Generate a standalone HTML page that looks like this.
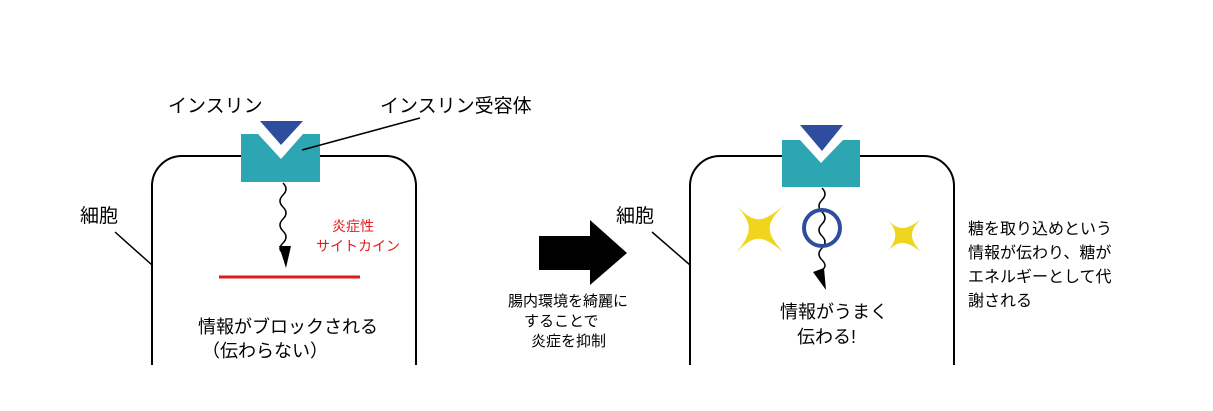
<!DOCTYPE html>
<html><head><meta charset="utf-8"><style>
body{margin:0;background:#fff;}
svg text{font-family:"Liberation Sans","Noto Sans CJK JP",sans-serif;}
</style></head><body>
<svg width="1213" height="406" viewBox="0 0 1213 406" xmlns="http://www.w3.org/2000/svg">
<path d="M152,365 V186 A30,30 0 0 1 182,156 H386 A30,30 0 0 1 416,186 V365" fill="none" stroke="#000" stroke-width="2"/>
<rect x="241" y="134" width="79" height="48" fill="#2ca6b2"/>
<polygon points="258,134 303,134 281,159" fill="#fff"/>
<polygon points="260,121 303,121 281,145" fill="#2e4d9e"/>
<line x1="302" y1="150" x2="420" y2="118" stroke="#000" stroke-width="1.5"/>
<path d="M283,183 q6,6 0,12 q-6,6 0,12 q6,6 0,12 q-6,6 0,12 q6,6 0,12 q-6,6 0,10" fill="none" stroke="#000" stroke-width="1.5"/>
<polygon points="279,246 291,246 286,268" fill="#000"/>
<line x1="219" y1="277" x2="360" y2="277" stroke="#e01b1b" stroke-width="3"/>
<text x="168" y="112" font-size="19">インスリン</text>
<text x="380" y="112" font-size="19">インスリン受容体</text>
<text x="80" y="222" font-size="19">細胞</text>
<line x1="115" y1="232" x2="152" y2="265" stroke="#000" stroke-width="1.5"/>
<text x="332" y="231" font-size="14" fill="#e01b1b">炎症性</text>
<text x="316" y="251" font-size="14" fill="#e01b1b">サイトカイン</text>
<text x="198" y="333" font-size="18">情報がブロックされる</text>
<text x="202" y="357" font-size="18">（伝わらない）</text>
<polygon points="539,236 590,236 590,220 627,253 590,285 590,270 539,270" fill="#000"/>
<text x="508" y="306" font-size="15">腸内環境を綺麗に</text>
<text x="524" y="326" font-size="15">することで</text>
<text x="531" y="346" font-size="15">炎症を抑制</text>
<path d="M690,365 V186 A30,30 0 0 1 720,156 H924 A30,30 0 0 1 954,186 V365" fill="none" stroke="#000" stroke-width="2"/>
<rect x="782" y="140" width="78" height="47" fill="#2ca6b2"/>
<polygon points="800,140 843,140 821,163" fill="#fff"/>
<polygon points="800,125 843,125 822,151" fill="#2e4d9e"/>
<path d="M822,188 q6,6 0,12 q-6,6 0,12 q6,6 0,12 q-6,6 0,12 q6,6 0,12 q-6,6 0,12 q6,6 0,10" fill="none" stroke="#000" stroke-width="1.5"/>
<polygon points="813,272 824,268 826,290" fill="#000"/>
<circle cx="822" cy="228" r="18" fill="none" stroke="#2e4d9e" stroke-width="4"/>
<path d="M736,205 C754,224 762,224 784,205 C765,224 765,232 784,253 C762,234 754,234 736,253 C753,232 753,224 736,205Z" fill="#f0d51e"/>
<path d="M887,219 C898,231 906,231 921,219 C909,231 909,239 921,252 C906,240 898,240 887,252 C898,239 898,231 887,219Z" fill="#f0d51e"/>
<text x="616" y="222" font-size="19">細胞</text>
<line x1="652" y1="232" x2="690" y2="265" stroke="#000" stroke-width="1.5"/>
<text x="780" y="318" font-size="18">情報がうまく</text>
<text x="797" y="343" font-size="18">伝わる!</text>
<text x="968" y="234" font-size="16">糖を取り込めという</text>
<text x="968" y="258" font-size="16">情報が伝わり、糖が</text>
<text x="968" y="282" font-size="16">エネルギーとして代</text>
<text x="968" y="306" font-size="16">謝される</text>
</svg>
</body></html>
